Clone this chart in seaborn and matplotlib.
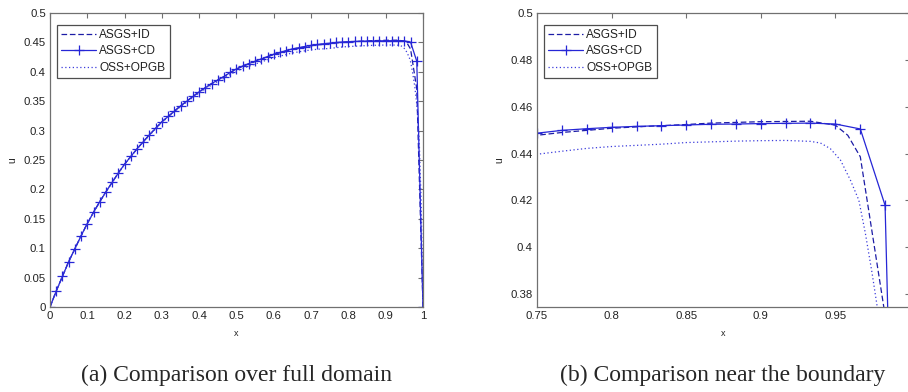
import matplotlib
matplotlib.use('Agg')
import matplotlib.pyplot as plt
import seaborn as sns

# ---------------- data ----------------
x_nodes = [0.0, 0.0167, 0.0333, 0.05, 0.0667, 0.0833, 0.1, 0.1167, 0.1333, 0.15,
           0.1667, 0.1833, 0.2, 0.2167, 0.2333, 0.25, 0.2667, 0.2833, 0.3, 0.3167,
           0.3333, 0.35, 0.3667, 0.3833, 0.4, 0.4167, 0.4333, 0.45, 0.4667, 0.4833,
           0.5, 0.5167, 0.5333, 0.55, 0.5667, 0.5833, 0.6, 0.6167, 0.6333, 0.65,
           0.6667, 0.6833, 0.7, 0.7167, 0.7333, 0.75, 0.7667, 0.7833, 0.8, 0.8167,
           0.8333, 0.85, 0.8667, 0.8833, 0.9, 0.9167, 0.9333, 0.95, 0.9667, 0.9833, 1.0]

u_asgs_cd = [0.000, 0.027, 0.052, 0.077, 0.099, 0.121, 0.142, 0.161, 0.179, 0.196,
             0.212, 0.228, 0.243, 0.256, 0.269, 0.281, 0.293, 0.304, 0.315, 0.324,
             0.333, 0.342, 0.350, 0.358, 0.366, 0.373, 0.380, 0.386, 0.392, 0.399,
             0.405, 0.410, 0.414, 0.418, 0.422, 0.426, 0.430, 0.433, 0.436, 0.439,
             0.441, 0.443, 0.445, 0.4465, 0.4477, 0.4487, 0.4499, 0.4506, 0.4512, 0.4516,
             0.4519, 0.4522, 0.4525, 0.4526, 0.4528, 0.4529, 0.4530, 0.4526, 0.4505, 0.4179, 0.000]

x_id = [0.0, 0.0167, 0.0333, 0.05, 0.0667, 0.0833, 0.1, 0.1167, 0.1333, 0.15,
        0.1667, 0.1833, 0.2, 0.2167, 0.2333, 0.25, 0.2667, 0.2833, 0.3, 0.3167,
        0.3333, 0.35, 0.3667, 0.3833, 0.4, 0.4167, 0.4333, 0.45, 0.4667, 0.4833,
        0.5, 0.5167, 0.5333, 0.55, 0.5667, 0.5833, 0.6, 0.6167, 0.6333, 0.65,
        0.6667, 0.6833, 0.7, 0.7167, 0.7333, 0.75, 0.7667, 0.7833, 0.8, 0.8167,
        0.8333, 0.85, 0.8667, 0.8833, 0.9, 0.9167, 0.9333, 0.95, 0.9583, 0.9667, 0.9833, 1.0]

u_asgs_id = [0.000, 0.027, 0.052, 0.077, 0.099, 0.121, 0.142, 0.161, 0.179, 0.196,
             0.212, 0.228, 0.243, 0.256, 0.269, 0.281, 0.293, 0.304, 0.315, 0.324,
             0.333, 0.342, 0.350, 0.358, 0.366, 0.373, 0.380, 0.386, 0.392, 0.399,
             0.4045, 0.4095, 0.4135, 0.4175, 0.4215, 0.4255, 0.4295, 0.4325, 0.4355, 0.4384,
             0.4404, 0.4424, 0.4443, 0.4457, 0.4468, 0.4478, 0.4490, 0.4499, 0.4508, 0.4514,
             0.4519, 0.4524, 0.4530, 0.4533, 0.4536, 0.4537, 0.4538, 0.4521, 0.4478, 0.4386, 0.371, 0.000]

x_oss = [0.0, 0.0167, 0.0333, 0.05, 0.0667, 0.0833, 0.1, 0.1167, 0.1333, 0.15,
         0.1667, 0.1833, 0.2, 0.2167, 0.2333, 0.25, 0.2667, 0.2833, 0.3, 0.3167,
         0.3333, 0.35, 0.3667, 0.3833, 0.4, 0.4167, 0.4333, 0.45, 0.4667, 0.4833,
         0.5, 0.5167, 0.5333, 0.55, 0.5667, 0.5833, 0.6, 0.6167, 0.6333, 0.65,
         0.6667, 0.6833, 0.7, 0.7167, 0.7333, 0.75, 0.7667, 0.7833, 0.8, 0.8167,
         0.8333, 0.85, 0.8667, 0.8833, 0.9, 0.9167, 0.9333, 0.94, 0.9466, 0.9534,
         0.9601, 0.9657, 0.9701, 0.9746, 0.978, 0.985, 0.99, 0.995, 1.0]

u_oss_opgb = [0.000, 0.027, 0.052, 0.077, 0.099, 0.121, 0.142, 0.161, 0.179, 0.196,
              0.2115, 0.2275, 0.2425, 0.2555, 0.2685, 0.2805, 0.292, 0.303, 0.314, 0.323,
              0.3318, 0.3405, 0.3485, 0.3563, 0.364, 0.3708, 0.3775, 0.3835, 0.389, 0.3955,
              0.401, 0.4058, 0.4095, 0.4132, 0.4168, 0.4205, 0.424, 0.4267, 0.4294, 0.432,
              0.434, 0.4357, 0.4373, 0.4383, 0.4391, 0.4397, 0.4410, 0.4422, 0.4430, 0.4435,
              0.4440, 0.4447, 0.4450, 0.4453, 0.4455, 0.4456, 0.4452, 0.4445, 0.4421, 0.4372,
              0.4286, 0.4201, 0.4059, 0.3889, 0.3747, 0.335, 0.28, 0.18, 0.000]

labels = ['ASGS+ID', 'ASGS+CD', 'OSS+OPGB']
captions = ['(a) Comparison over full domain', '(b) Comparison near the boundary']

left_xticks = [0, 0.1, 0.2, 0.3, 0.4, 0.5, 0.6, 0.7, 0.8, 0.9, 1]
left_xticklabels = ['0', '0.1', '0.2', '0.3', '0.4', '0.5', '0.6', '0.7', '0.8', '0.9', '1']
left_yticks = [0, 0.05, 0.1, 0.15, 0.2, 0.25, 0.3, 0.35, 0.4, 0.45, 0.5]
left_yticklabels = ['0', '0.05', '0.1', '0.15', '0.2', '0.25', '0.3', '0.35', '0.4', '0.45', '0.5']
right_xticks = [0.75, 0.8, 0.85, 0.9, 0.95, 1.0]
right_xticklabels = ['0.75', '0.8', '0.85', '0.9', '0.95', '1']
right_yticks = [0.38, 0.4, 0.42, 0.44, 0.46, 0.48, 0.5]
right_yticklabels = ['0.38', '0.4', '0.42', '0.44', '0.46', '0.48', '0.5']

# ---------------- style ----------------
sns.set_style('white')
plt.rcParams['font.family'] = ['Liberation Sans', 'DejaVu Sans']

c_id = '#1c1ca6'
c_cd = '#2626d6'
c_oss = '#3c3cdc'
spine_c = '#707070'
W, H = 908, 392

fig = plt.figure(figsize=(W / 100, H / 100), dpi=100)
fig.patch.set_facecolor('white')
ax1 = fig.add_axes([50 / W, 85 / H, 373 / W, 294 / H])
ax2 = fig.add_axes([537 / W, 85 / H, 373 / W, 294 / H])

specs = [
    (ax1, (0, 1), (0, 0.5), left_xticks, left_xticklabels, left_yticks, left_yticklabels),
    (ax2, (0.75, 1.0), (0.3745, 0.5), right_xticks, right_xticklabels, right_yticks, right_yticklabels),
]

for ax, xlim, ylim, xt, xtl, yt, ytl in specs:
    wpx = 373
    sns.lineplot(x=x_id, y=u_asgs_id, ax=ax, color=c_id, linewidth=0.9,
                 linestyle=(0, (4.5, 2.2)), label=labels[0], sort=False)
    sns.lineplot(x=x_nodes, y=u_asgs_cd, ax=ax, color=c_cd, linewidth=0.9,
                 marker='+', markersize=7, markeredgewidth=0.9, markeredgecolor=c_cd,
                 label=labels[1], sort=False)
    sns.lineplot(x=x_oss, y=u_oss_opgb, ax=ax, color=c_oss, linewidth=0.9,
                 linestyle=(0, (1, 2)), label=labels[2], sort=False)
    ax.set_xlim(*xlim)
    ax.set_ylim(*ylim)
    ax.set_xticks(xt)
    ax.set_xticklabels(xtl)
    ax.set_yticks(yt)
    ax.set_yticklabels(ytl)
    ax.tick_params(direction='in', top=True, right=True, length=3.5, width=0.8,
                   color=spine_c, labelsize=8.2, labelcolor='#222222', pad=3)
    for s in ax.spines.values():
        s.set_visible(True)
        s.set_color(spine_c)
        s.set_linewidth(0.9)
    ax.set_xlabel('x', fontsize=6.5, color='#222222')
    ax.set_ylabel('u', fontsize=7.5, color='#222222')
    ax.xaxis.set_label_coords(0.5, -22 / 294)
    ax.yaxis.set_label_coords(-33 / wpx, 0.5)
    leg = ax.legend(loc='upper left', bbox_to_anchor=(7 / wpx, 1 - 12 / 294),
                    borderaxespad=0, frameon=True, fancybox=False, shadow=False,
                    fontsize=8.6, handlelength=2.9, handletextpad=0.3,
                    labelspacing=0.36, borderpad=0.35)
    leg.get_frame().set_edgecolor('#222222')
    leg.get_frame().set_linewidth(0.9)
    for t in leg.get_texts():
        t.set_color('#222222')

fig.text(236 / W, (H - 375) / H, captions[0], ha='center', va='center',
         fontsize=17, family=['Liberation Serif', 'DejaVu Serif'])
fig.text(723 / W, (H - 375) / H, captions[1], ha='center', va='center',
         fontsize=17, family=['Liberation Serif', 'DejaVu Serif'])

fig.savefig('out.png', dpi=100, facecolor='white')
